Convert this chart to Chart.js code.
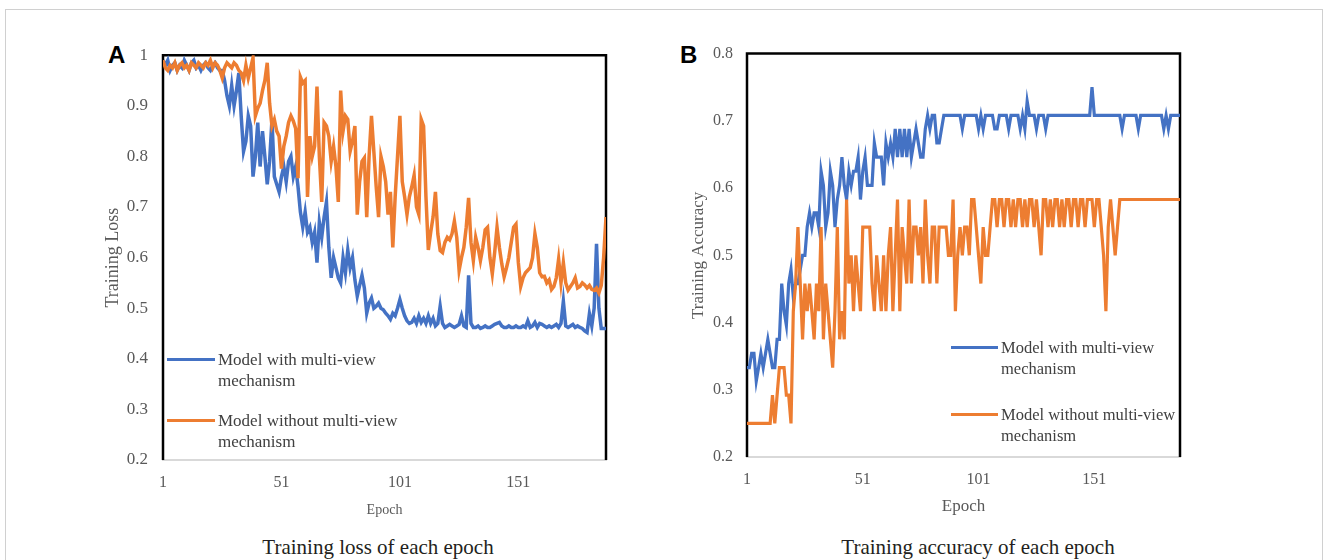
<!DOCTYPE html>
<html>
<head>
<meta charset="utf-8">
<script src="https://cdn.jsdelivr.net/npm/chart.js@4.4.0/dist/chart.umd.min.js"></script>
<style>
  body { margin: 0; background: #fff; width: 1328px; height: 560px; overflow: hidden; position: relative;
         font-family: "Liberation Serif", "Times New Roman", serif; }
  .frame { position: absolute; left: 5px; top: 9px; width: 1316px; height: 600px; border: 1px solid #d0d0d0; }
  .letter { position: absolute; font-family: "Liberation Sans", Arial, sans-serif; font-weight: bold;
            font-size: 24px; line-height: 24px; color: #000; }
  canvas { position: absolute; }
  .caption { position: absolute; width: 400px; text-align: center; font-size: 21px; line-height: 24px; color: #231f20; }
  .legend-item { position: absolute; }
  .legend-item .swatch { position: absolute; height: 3px; }
  .legend-item .text { position: absolute; white-space: pre; color: #404040; line-height: 21px; }
</style>
</head>
<body>
<div class="frame"></div>
<div class="letter" style="left:108px; top:43px;">A</div>
<div class="letter" style="left:680px; top:43px;">B</div>
<canvas id="lossChart" width="520" height="490" style="left:100px; top:30px;"></canvas>
<canvas id="accChart" width="514" height="487" style="left:680px; top:30px;"></canvas>
<div class="caption" style="left:178px; top:535px;">Training loss of each epoch</div>
<div class="caption" style="left:778px; top:535px;">Training accuracy of each epoch</div>

<script>
// series names (legend text, with the line break of the original)
const seriesNames = ['Model with multi-view\nmechanism', 'Model without multi-view\nmechanism']
const seriesColors = ['#4472C4', '#ED7D31']
const tickEpochs = [1, 51, 101, 151]

// training loss, one value per epoch
const lossWith = [
  0.99, 0.98, 0.99, 0.97, 0.98, 0.985, 0.97, 0.98, 0.975, 0.99,
  0.98, 0.97, 0.985, 0.99, 0.975, 0.98, 0.97, 0.98, 0.985, 0.975,
  0.97, 0.98, 0.985, 0.975, 0.97, 0.97, 0.95, 0.92, 0.90, 0.94,
  0.90, 0.93, 0.965, 0.88, 0.81, 0.83, 0.88, 0.86, 0.76, 0.80,
  0.867, 0.78, 0.85, 0.80, 0.745, 0.79, 0.873, 0.76, 0.745, 0.73,
  0.76, 0.78, 0.75, 0.79, 0.80, 0.76, 0.78, 0.74, 0.69, 0.66,
  0.69, 0.65, 0.66, 0.63, 0.65, 0.59, 0.67, 0.64, 0.68, 0.71,
  0.62, 0.56, 0.60, 0.58, 0.56, 0.55, 0.60, 0.57, 0.615, 0.58,
  0.60, 0.556, 0.524, 0.545, 0.565, 0.54, 0.49, 0.51, 0.52, 0.50,
  0.504, 0.51, 0.50, 0.497, 0.49, 0.485, 0.478, 0.49, 0.485, 0.50,
  0.517, 0.50, 0.485, 0.475, 0.47, 0.472, 0.48, 0.47, 0.485, 0.472,
  0.48, 0.47, 0.485, 0.47, 0.48, 0.465, 0.47, 0.504, 0.47, 0.462,
  0.465, 0.468, 0.465, 0.462, 0.465, 0.468, 0.485, 0.465, 0.462, 0.565,
  0.47, 0.462, 0.462, 0.465, 0.46, 0.462, 0.465, 0.462, 0.462, 0.465,
  0.468, 0.47, 0.472, 0.465, 0.462, 0.462, 0.465, 0.462, 0.462, 0.465,
  0.462, 0.462, 0.465, 0.462, 0.475, 0.462, 0.465, 0.472, 0.462, 0.47,
  0.468, 0.465, 0.462, 0.465, 0.462, 0.465, 0.468, 0.462, 0.47, 0.514,
  0.465, 0.462, 0.465, 0.468, 0.462, 0.465, 0.462, 0.46, 0.455, 0.452,
  0.489, 0.465, 0.50, 0.627, 0.50, 0.46, 0.46, 0.46
]
const lossWithout = [
  0.99, 0.975, 0.97, 0.98, 0.975, 0.985, 0.97, 0.98, 0.985, 0.975,
  0.98, 0.97, 0.985, 0.98, 0.975, 0.985, 0.98, 0.975, 0.985, 0.98,
  0.99, 0.975, 0.985, 0.98, 0.97, 0.955, 0.975, 0.985, 0.98, 0.975,
  0.985, 0.98, 0.97, 0.965, 0.95, 0.98, 0.955, 0.975, 0.995, 0.88,
  0.895, 0.905, 0.93, 0.95, 0.985, 0.905, 0.86, 0.873, 0.85, 0.84,
  0.776, 0.82, 0.84, 0.867, 0.88, 0.87, 0.855, 0.757, 0.957, 0.945,
  0.95, 0.72, 0.84, 0.80, 0.82, 0.938, 0.80, 0.71, 0.867, 0.86,
  0.84, 0.79, 0.82, 0.78, 0.71, 0.93, 0.85, 0.88, 0.873, 0.81,
  0.83, 0.86, 0.685, 0.75, 0.79, 0.797, 0.68, 0.80, 0.88, 0.81,
  0.74, 0.68, 0.80, 0.78, 0.75, 0.685, 0.73, 0.62, 0.72, 0.80,
  0.88, 0.75, 0.72, 0.685, 0.72, 0.74, 0.763, 0.70, 0.685, 0.873,
  0.86, 0.72, 0.615, 0.65, 0.68, 0.73, 0.647, 0.614, 0.61, 0.63,
  0.64, 0.635, 0.647, 0.672, 0.64, 0.575, 0.60, 0.62, 0.66, 0.718,
  0.63, 0.594, 0.64, 0.62, 0.594, 0.62, 0.655, 0.66, 0.60, 0.568,
  0.61, 0.66, 0.62, 0.588, 0.562, 0.58, 0.60, 0.63, 0.66, 0.666,
  0.59, 0.543, 0.56, 0.57, 0.575, 0.58, 0.60, 0.647, 0.62, 0.57,
  0.562, 0.563, 0.55, 0.556, 0.537, 0.543, 0.56, 0.597, 0.55, 0.59,
  0.55, 0.536, 0.543, 0.55, 0.56, 0.54, 0.543, 0.55, 0.546, 0.54,
  0.545, 0.537, 0.535, 0.54, 0.53, 0.545, 0.60, 0.68
]

// training accuracy, one value per epoch
const accWith = [
  0.333, 0.333, 0.354, 0.354, 0.313, 0.333, 0.354, 0.333, 0.354, 0.375,
  0.354, 0.333, 0.333, 0.375, 0.375, 0.458, 0.417, 0.396, 0.458, 0.479,
  0.438, 0.458, 0.458, 0.479, 0.5, 0.5, 0.542, 0.563, 0.542, 0.563,
  0.563, 0.542, 0.625, 0.604, 0.542, 0.563, 0.625, 0.604, 0.542, 0.583,
  0.604, 0.646, 0.604, 0.583, 0.625, 0.604, 0.625, 0.625, 0.646, 0.583,
  0.625, 0.646, 0.604, 0.604, 0.604, 0.667, 0.646, 0.646, 0.646, 0.604,
  0.667, 0.646, 0.667, 0.646, 0.688, 0.646, 0.688, 0.646, 0.688, 0.646,
  0.688, 0.646, 0.667, 0.688, 0.667, 0.646, 0.646, 0.688, 0.708, 0.688,
  0.708, 0.708, 0.667, 0.667, 0.688, 0.708, 0.708, 0.708, 0.708, 0.708,
  0.708, 0.708, 0.708, 0.688, 0.708, 0.708, 0.708, 0.708, 0.708, 0.708,
  0.688, 0.708, 0.688, 0.708, 0.708, 0.708, 0.708, 0.688, 0.688, 0.708,
  0.708, 0.708, 0.708, 0.688, 0.708, 0.708, 0.708, 0.708, 0.688, 0.708,
  0.688, 0.729, 0.708, 0.708, 0.708, 0.688, 0.708, 0.708, 0.708, 0.688,
  0.708, 0.708, 0.708, 0.708, 0.708, 0.708, 0.708, 0.708, 0.708, 0.708,
  0.708, 0.708, 0.708, 0.708, 0.708, 0.708, 0.708, 0.708, 0.708, 0.75,
  0.708, 0.708, 0.708, 0.708, 0.708, 0.708, 0.708, 0.708, 0.708, 0.708,
  0.708, 0.708, 0.688, 0.708, 0.708, 0.708, 0.708, 0.708, 0.708, 0.688,
  0.708, 0.708, 0.708, 0.708, 0.708, 0.708, 0.708, 0.708, 0.708, 0.708,
  0.688, 0.708, 0.688, 0.708, 0.708, 0.708, 0.708, 0.708
]
const accWithout = [
  0.25, 0.25, 0.25, 0.25, 0.25, 0.25, 0.25, 0.25, 0.25, 0.25,
  0.25, 0.292, 0.25, 0.292, 0.333, 0.333, 0.333, 0.292, 0.292, 0.25,
  0.417, 0.458, 0.542, 0.458, 0.375, 0.458, 0.417, 0.458, 0.417, 0.375,
  0.458, 0.417, 0.542, 0.375, 0.458, 0.417, 0.375, 0.333, 0.417, 0.542,
  0.375, 0.417, 0.375, 0.583, 0.458, 0.5, 0.417, 0.5, 0.458, 0.417,
  0.542, 0.542, 0.542, 0.542, 0.458, 0.417, 0.5, 0.458, 0.417, 0.5,
  0.417, 0.5, 0.542, 0.417, 0.5, 0.583, 0.417, 0.542, 0.5, 0.458,
  0.583, 0.458, 0.542, 0.542, 0.5, 0.542, 0.458, 0.583, 0.5, 0.458,
  0.542, 0.542, 0.458, 0.542, 0.542, 0.542, 0.542, 0.5, 0.5, 0.583,
  0.417, 0.5, 0.542, 0.5, 0.542, 0.542, 0.5, 0.583, 0.583, 0.542,
  0.5, 0.458, 0.542, 0.5, 0.5, 0.542, 0.583, 0.583, 0.542, 0.583,
  0.583, 0.542, 0.583, 0.583, 0.542, 0.583, 0.542, 0.583, 0.583, 0.542,
  0.583, 0.542, 0.583, 0.583, 0.542, 0.583, 0.542, 0.5, 0.583, 0.583,
  0.542, 0.583, 0.542, 0.583, 0.583, 0.542, 0.583, 0.542, 0.583, 0.583,
  0.542, 0.583, 0.583, 0.542, 0.583, 0.583, 0.542, 0.583, 0.583, 0.583,
  0.542, 0.583, 0.583, 0.542, 0.5, 0.417, 0.542, 0.583, 0.542, 0.5,
  0.542, 0.583, 0.583, 0.583, 0.583, 0.583, 0.583, 0.583, 0.583, 0.583,
  0.583, 0.583, 0.583, 0.583, 0.583, 0.583, 0.583, 0.583, 0.583, 0.583,
  0.583, 0.583, 0.583, 0.583, 0.583, 0.583, 0.583, 0.583
]

const epochs = lossWith.map((v, i) => i + 1)

Chart.defaults.font.family = '"Liberation Serif", "Times New Roman", serif'
Chart.defaults.color = '#595959'

// black frame on the left, top and right of the plot area (bottom is the grey x axis line)
const plotFrame = {
  id: 'plotFrame',
  beforeDatasetsDraw(chart) {
    const {ctx, chartArea: a} = chart
    ctx.save()
    ctx.strokeStyle = '#000'
    ctx.lineWidth = 2.5
    ctx.beginPath()
    ctx.moveTo(a.left, a.bottom)
    ctx.lineTo(a.left, a.top)
    ctx.lineTo(a.right, a.top)
    ctx.lineTo(a.right, a.bottom)
    ctx.stroke()
    ctx.restore()
  }
}

function htmlLegend(chart, pos) {
  chart.data.datasets.forEach((ds, i) => {
    const item = document.createElement('div')
    item.className = 'legend-item'
    item.style.left = pos.left + 'px'
    item.style.top = (pos.centers[i] - 10.5) + 'px'
    const swatch = document.createElement('span')
    swatch.className = 'swatch'
    swatch.style.background = ds.borderColor
    swatch.style.width = pos.swatch + 'px'
    swatch.style.top = '9px'
    swatch.style.left = '0px'
    const text = document.createElement('span')
    text.className = 'text'
    text.style.left = pos.gap + 'px'
    text.style.fontSize = pos.font + 'px'
    text.textContent = ds.label
    item.appendChild(swatch)
    item.appendChild(text)
    document.body.appendChild(item)
  })
}

function makeChart(id, series, o) {
  const ctx = document.getElementById(id)
  return new Chart(ctx, {
    type: 'line',
    data: {
      datasets: series.map((s, i) => ({
        label: seriesNames[i],
        data: epochs.map((e, j) => ({x: e, y: s[j]})),
        borderColor: seriesColors[i],
        backgroundColor: seriesColors[i],
        borderWidth: o.lineWidth,
        pointRadius: 0,
        tension: 0,
        order: 1 - i
      }))
    },
    options: {
      responsive: false,
      animation: false,
      layout: { padding: { top: 18, right: 14, left: 0, bottom: 0 } },
      plugins: {
        legend: { display: false },
        tooltip: { enabled: false }
      },
      scales: {
        x: {
          type: 'linear',
          min: 1,
          max: epochs.length,
          afterBuildTicks: (axis) => { axis.ticks = tickEpochs.map(v => ({value: v})) },
          afterFit: (axis) => { axis.height = o.xHeight },
          grid: { display: false, drawTicks: false },
          border: { display: true, color: '#d9d9d9', width: 2 },
          ticks: { font: { size: 16 }, padding: o.xTickPad, maxRotation: 0, autoSkip: false },
          title: { display: true, text: 'Epoch', font: { size: o.xTitleSize }, padding: { top: 0, bottom: o.xTitlePad } }
        },
        y: {
          min: o.yMin,
          max: o.yMax,
          afterFit: (axis) => { axis.width = o.yWidth },
          grid: { display: false, drawTicks: false },
          border: { display: false },
          ticks: { stepSize: 0.1, font: { size: o.yTickSize }, padding: o.yTickPad,
                   callback: (v) => String(+v.toFixed(1)) },
          title: { display: true, text: o.yTitle, font: { size: o.yTitleSize }, padding: { top: o.yTitlePad, bottom: 0 } }
        }
      }
    },
    plugins: [plotFrame]
  })
}

const lossChart = makeChart('lossChart', [lossWith, lossWithout], {
  yMin: 0.2, yMax: 1, yTitle: 'Training Loss', yTitleSize: 18, yTitlePad: 2, yTickSize: 17, yTickPad: 15,
  yWidth: 63, xHeight: 60, xTickPad: 13, xTitleSize: 14, xTitlePad: 1, lineWidth: 3.5
})
const accChart = makeChart('accChart', [accWith, accWithout], {
  yMin: 0.2, yMax: 0.8, yTitle: 'Training Accuracy', yTitleSize: 17, yTitlePad: 8, yTickSize: 16, yTickPad: 14,
  yWidth: 67, xHeight: 60, xTickPad: 13, xTitleSize: 17, xTitlePad: 0, lineWidth: 3.2
})

htmlLegend(lossChart, { left: 167, swatch: 48, gap: 51, font: 17, centers: [359, 420] })
htmlLegend(accChart, { left: 951, swatch: 47, gap: 50, font: 16.5, centers: [347, 414.5] })
</script>
</body>
</html>
